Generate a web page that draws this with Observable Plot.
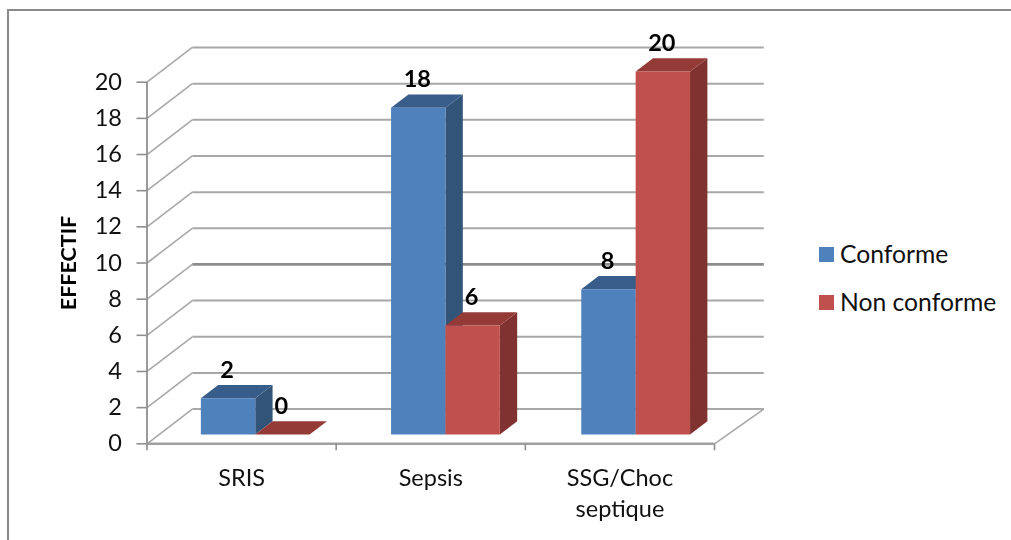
<!DOCTYPE html>
<html lang="fr">
<head>
<meta charset="utf-8">
<script src="https://cdn.jsdelivr.net/npm/d3@7"></script>
<script src="https://cdn.jsdelivr.net/npm/@observablehq/plot@0.6"></script>
<style>
  html, body { margin: 0; padding: 0; background: #fff; overflow: hidden; }
  #wrap { position: relative; width: 1011px; height: 540px; font-family: Lato, "Open Sans", sans-serif; }
  #border { position: absolute; left: 7px; top: 9px; right: 0; height: 531px; border-top: 2px solid #8a8a8a; border-left: 2px solid #8a8a8a; box-sizing: border-box; }
  #chart { position: absolute; left: 0; top: 0; filter: blur(0.4px); }
  .leg { position: absolute; left: 819px; font-size: 24.7px; color: #111; line-height: 1; white-space: nowrap; }
  .leg i { position: absolute; left: 0; top: 5px; width: 15px; height: 15px; }
  .leg span { margin-left: 21px; }
</style>
</head>
<body>
<div id="wrap">
  <div id="chart"></div>
  <div id="border"></div>
  <div id="legend"></div>
</div>
<script>
const categories = ["SRIS", "Sepsis", "SSG/Choc\nseptique"];
const conforme = [2, 18, 8];
const nonConforme = [0, 6, 20];
const yTicks = [0, 2, 4, 6, 8, 10, 12, 14, 16, 18, 20];
const seriesNames = ["Conforme", "Non conforme"];
const yTitle = "EFFECTIF";

// oblique projection: depth 0 = front of the floor, depth 1 = back wall
const depthX = 0.2395, depthY = 1.92;
const barGap = 0.2205, barStep = 1.0055, barWidth = 0.2875, depthA = 0.268, depthB = 0.651, barScale = 1.004;
const wallRight = 3.021, strongGrid = 8;
const px = (c, d) => c + d * depthX;
const py = (v, d) => v + d * depthY;
const pt = (c, v, d) => ({x: px(c, d), y: py(v, d)});

const palettes = [
  {front: "#4f81bd", side: "#325479", top: "#385d8a"},
  {front: "#c0504d", side: "#7f3230", top: "#943a37"}
];
const polygon = (pts, fill) => Plot.line([...pts, pts[0]], {x: "x", y: "y", fill, stroke: "none", curve: "linear"});

const barLeft = (cat, s) => cat * barStep + barGap + s * barWidth;

function bar(cat, s, value) {
  const l = barLeft(cat, s), r = l + barWidth, p = palettes[s], v = value * barScale;
  return [
    polygon([pt(r, 0, depthA), pt(r, 0, depthB), pt(r, v, depthB), pt(r, v, depthA)], p.side),
    polygon([pt(l, v, depthA), pt(r, v, depthA), pt(r, v, depthB), pt(l, v, depthB)], p.top),
    polygon([pt(l, 0, depthA), pt(r, 0, depthA), pt(r, v, depthA), pt(l, v, depthA)], p.front)
  ];
}

const gridColor = "#a8a8a8";
const labels = [];
categories.forEach((_, i) => {
  [conforme[i], nonConforme[i]].forEach((v, s) => {
    labels.push({...pt(barLeft(i, s) + barWidth / 2, v * barScale, depthA), v});
  });
});

const marks = [
  // back wall gridlines
  Plot.link(yTicks, {
    x1: () => px(0, 1), x2: () => px(wallRight, 1), y1: v => py(v, 1), y2: v => py(v, 1),
    stroke: v => v === strongGrid ? "#8c8c8c" : gridColor,
    strokeWidth: v => v === strongGrid ? 2.8 : 2
  }),
  // side wall diagonals
  Plot.link(yTicks, {
    x1: () => px(0, 0), x2: () => px(0, 1), y1: v => py(v, 0), y2: v => py(v, 1),
    stroke: gridColor, strokeWidth: 1.6
  }),
  Plot.link([0], {
    x1: () => px(3, 0), x2: () => px(wallRight, 1), y1: v => py(v, 0), y2: v => py(v, 1),
    stroke: gridColor, strokeWidth: 1.6
  }),
  // axis lines
  Plot.ruleX([0], {y1: 0, y2: 20, stroke: "#8f8f8f", strokeWidth: 1.8}),
  Plot.ruleY([0], {x1: 0, x2: 3, stroke: "#a0a0a0", strokeWidth: 2.4}),
  Plot.axisY({
    ticks: yTicks, tickSize: 10, tickPadding: 15, stroke: "#8f8f8f", strokeWidth: 1.6,
    fontSize: 23.5, fill: "#111", label: null
  }),
  Plot.axisX({
    ticks: [0, 1, 2, 3], tickSize: 7, tickFormat: () => "", stroke: "#8f8f8f", strokeWidth: 1.6, label: null
  }),
  // bars
  ...categories.flatMap((_, i) => [...bar(i, 0, conforme[i]), ...bar(i, 1, nonConforme[i])]),
  // value labels
  Plot.text(labels, {
    x: "x", y: "y", text: d => String(d.v), dx: -1, dy: -28,
    fontSize: 23.5, fontWeight: 700, fill: "#000"
  }),
  // category labels
  Plot.text(categories, {
    x: (_, i) => i + 0.5, y: () => 0, text: d => d, dy: 19, lineAnchor: "top", lineHeight: 1.36,
    fontSize: 23.5, fill: "#111"
  }),
  // y title
  Plot.text([yTitle], {
    x: () => 0, y: () => 10, text: d => d, rotate: -90, dx: -78, fontSize: 21.5, fontWeight: 700, fill: "#000"
  })
];

const plot = Plot.plot({
  width: 1011, height: 540,
  marginLeft: 146.5, marginRight: 297, marginTop: 81.7, marginBottom: 96.7,
  x: {domain: [0, 3]},
  y: {domain: [0, 20]},
  style: {fontFamily: "Lato, 'Open Sans', sans-serif", background: "transparent", overflow: "visible"},
  marks
});
document.getElementById("chart").append(plot);

const legendTops = [242, 290];
const legend = document.getElementById("legend");
seriesNames.forEach((name, i) => {
  const row = document.createElement("div");
  row.className = "leg";
  row.style.top = legendTops[i] + "px";
  row.innerHTML = `<i style="background:${palettes[i].front}"></i><span>${name}</span>`;
  legend.append(row);
});
</script>
</body>
</html>
